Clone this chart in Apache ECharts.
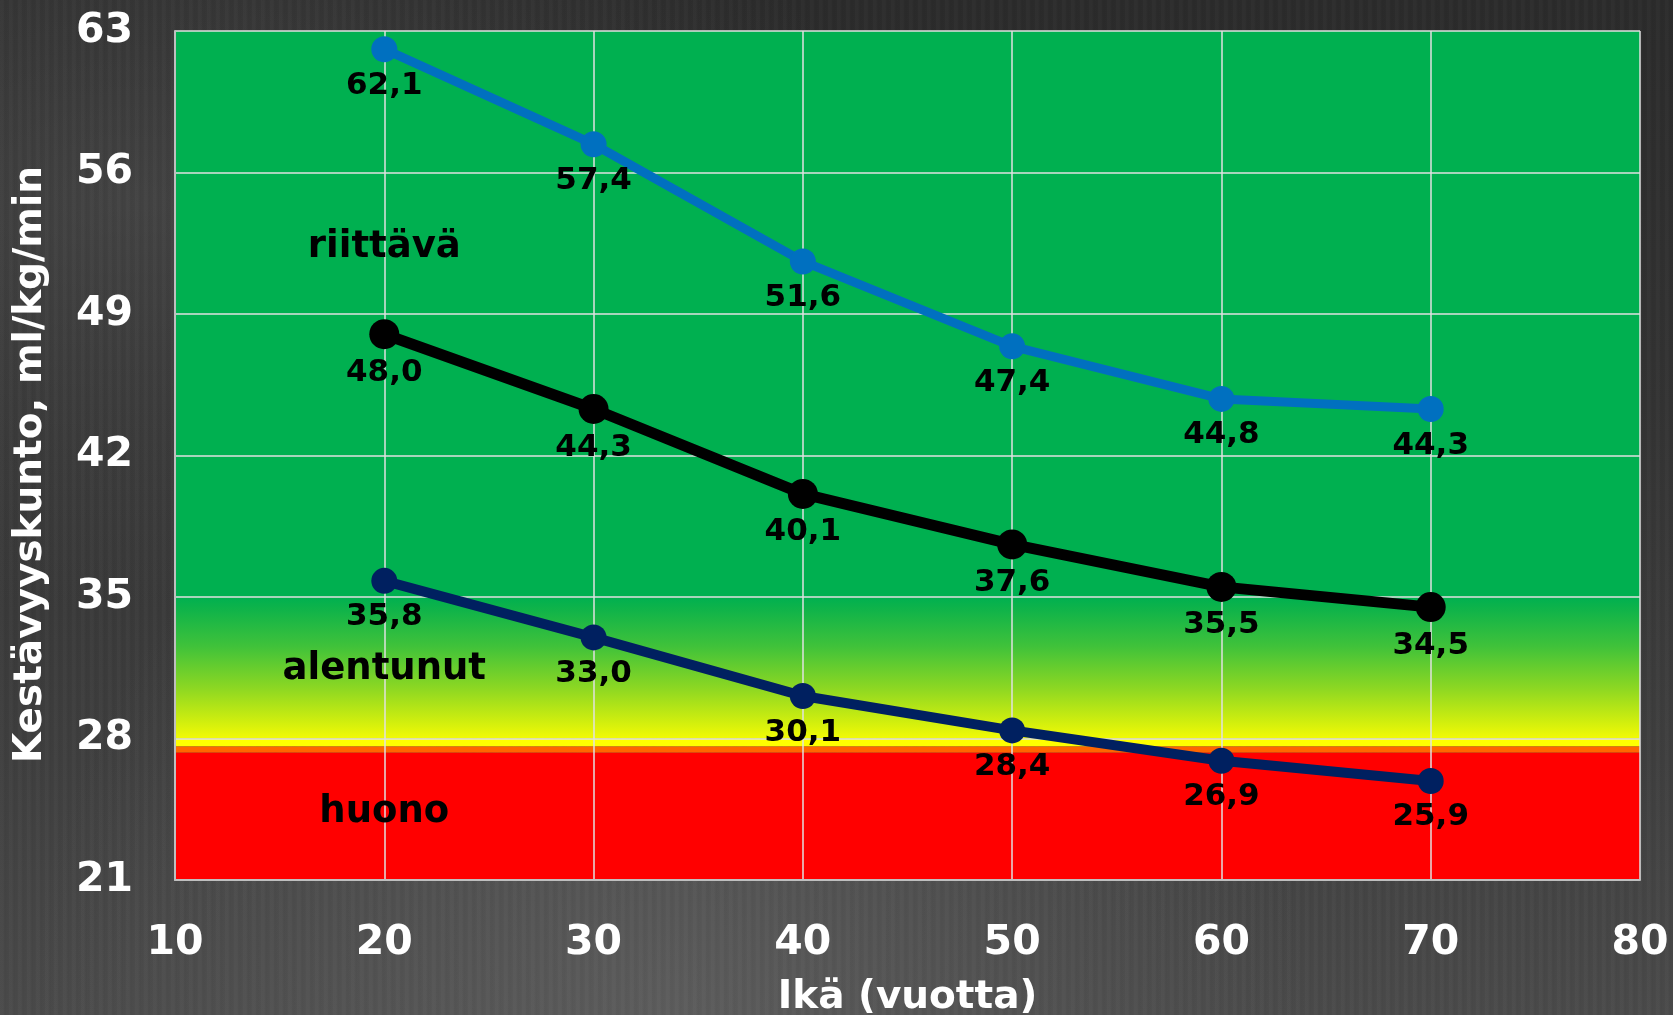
<!DOCTYPE html>
<html>
<head>
<meta charset="utf-8">
<script src="https://cdn.jsdelivr.net/npm/echarts@6/dist/echarts.min.js"></script>
<style>
html,body{margin:0;padding:0;width:1673px;height:1015px;overflow:hidden;}
body{
  background:
    repeating-linear-gradient(90deg, rgba(255,255,255,0.02) 0px, rgba(255,255,255,0.02) 3px, rgba(0,0,0,0.03) 5px, rgba(0,0,0,0) 9px),
    radial-gradient(ellipse at 8% 20%, rgba(90,90,90,0.45), rgba(0,0,0,0) 35%),
    radial-gradient(ellipse at 40% 100%, rgba(110,110,110,0.5), rgba(0,0,0,0) 45%),
    linear-gradient(180deg, #2b2b2b 0%, #333333 40%, #3f3f3f 75%, #4a4a4a 100%);
}
#chart{width:1673px;height:1015px;}
</style>
</head>
<body>
<div id="chart"></div>
<script>
const ages = [20, 30, 40, 50, 60, 70];
const upperValues = [62.1, 57.4, 51.6, 47.4, 44.8, 44.3];
const middleValues = [48.0, 44.3, 40.1, 37.6, 35.5, 34.5];
const lowerValues = [35.8, 33.0, 30.1, 28.4, 26.9, 25.9];
const yTicks = [21, 28, 35, 42, 49, 56, 63];
const xTicks = [10, 20, 30, 40, 50, 60, 70, 80];
const zoneLabels = [
  {name: 'riittävä', x: 20, y: 52.3},
  {name: 'alentunut', x: 20, y: 31.4},
  {name: 'huono', x: 20, y: 24.35}
];

const FONT = 'DejaVu Sans';
const fmt = v => v.toFixed(1).replace('.', ',');
const pairs = vals => ages.map((a, i) => [a, vals[i]]);

function lineSeries(name, vals, color, width, size) {
  return {
    name, type: 'line', z: 5, data: pairs(vals),
    symbol: 'circle', symbolSize: size,
    lineStyle: {color, width},
    itemStyle: {color},
    label: {
      show: true, position: 'bottom', distance: 8,
      formatter: p => fmt(p.value[1]),
      color: '#000', fontFamily: FONT, fontWeight: 'bold', fontSize: 31
    },
    emphasis: {disabled: true},
    animation: false
  };
}

const chart = echarts.init(document.getElementById('chart'), null, {renderer: 'canvas'});
chart.setOption({
  backgroundColor: 'transparent',
  animation: false,
  grid: {left: 175, right: 33, top: 31, bottom: 135, containLabel: false, outerBoundsMode: 'none'},
  xAxis: {
    type: 'value', min: xTicks[0], max: xTicks[xTicks.length - 1], interval: 10, z: 3,
    name: 'Ikä (vuotta)', nameLocation: 'middle', nameGap: 98,
    nameTextStyle: {color: '#fff', fontFamily: FONT, fontWeight: 'bold', fontSize: 39},
    axisLine: {show: true, lineStyle: {color: '#bfbfbf', width: 2}},
    axisTick: {show: false},
    axisLabel: {color: '#fff', fontFamily: FONT, fontWeight: 'bold', fontSize: 41, margin: 43},
    splitLine: {show: true, lineStyle: {color: '#e0e0e0', width: 1.5}}
  },
  yAxis: {
    type: 'value', min: yTicks[0], max: yTicks[yTicks.length - 1], interval: 7, z: 3,
    name: 'Kestävyyskunto, ml/kg/min', nameLocation: 'middle', nameGap: 125,
    nameTextStyle: {color: '#fff', fontFamily: FONT, fontWeight: 'bold', fontSize: 39, padding: [0, 18, 0, 0]},
    axisLine: {show: true, lineStyle: {color: '#bfbfbf', width: 2}},
    axisTick: {show: false},
    axisLabel: {color: '#fff', fontFamily: FONT, fontWeight: 'bold', fontSize: 41, margin: 42},
    splitLine: {show: true, lineStyle: {color: '#e0e0e0', width: 1.5}}
  },
  series: [
    {
      type: 'line', z: 1, data: [], silent: true,
      markArea: {
        silent: true,
        data: [
          [{yAxis: 35, itemStyle: {color: '#00B050'}}, {yAxis: 63}],
          [{yAxis: 28, itemStyle: {color: new echarts.graphic.LinearGradient(0, 0, 0, 1, [
            {offset: 0, color: '#00B050'},
            {offset: 0.08, color: '#0EB34A'},
            {offset: 0.35, color: '#40C23A'},
            {offset: 0.65, color: '#8ED822'},
            {offset: 1, color: '#F2FA04'}
          ])}}, {yAxis: 35}],
          [{yAxis: 27.6, itemStyle: {color: '#FFFF00'}}, {yAxis: 28}],
          [{yAxis: 27.3, itemStyle: {color: '#FF6600'}}, {yAxis: 27.6}],
          [{yAxis: 21, itemStyle: {color: '#FF0000'}}, {yAxis: 27.3}]
        ]
      }
    },
    {
      type: 'scatter', z: 4, silent: true, symbolSize: 1,
      itemStyle: {opacity: 0},
      data: zoneLabels.map(z => ({name: z.name, value: [z.x, z.y]})),
      label: {
        show: true, position: 'inside', formatter: p => p.name, opacity: 1,
        color: '#000', fontFamily: FONT, fontWeight: 'bold', fontSize: 37
      }
    },
    lineSeries('upper', upperValues, '#0070C0', 9, 26),
    lineSeries('middle', middleValues, '#000000', 11, 30),
    lineSeries('lower', lowerValues, '#002060', 10, 26)
  ]
});
</script>
</body>
</html>
